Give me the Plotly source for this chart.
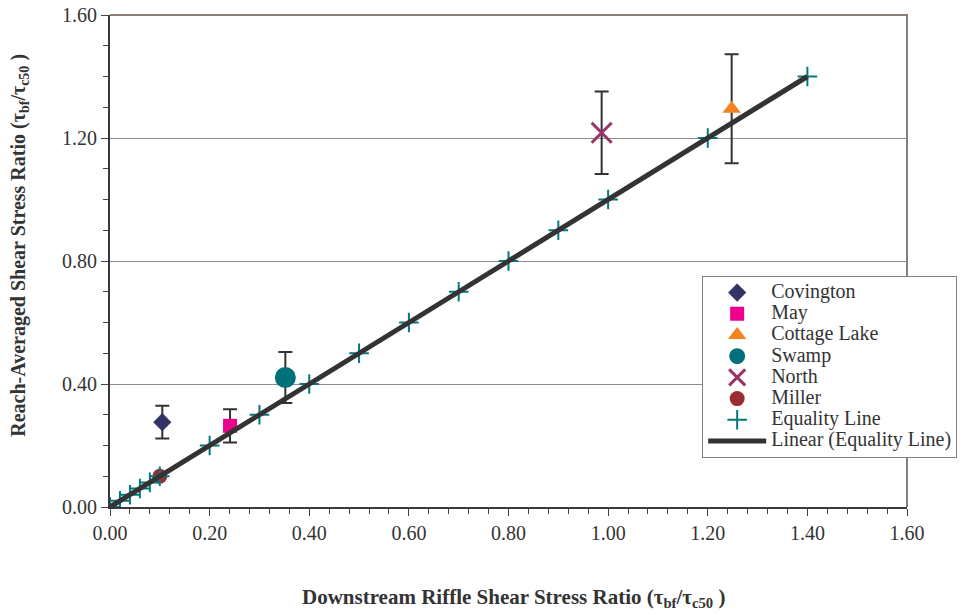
import plotly.graph_objects as go

# ---- data ----
site_names = ["Covington", "May", "Cottage Lake", "Swamp", "North", "Miller"]
site_x = [0.105, 0.241, 1.248, 0.352, 0.987, 0.100]
site_y = [0.276, 0.264, 1.295, 0.421, 1.217, 0.100]
site_err = [0.053, 0.054, 0.177, 0.083, 0.134, None]

equality_x = [0.0, 0.02, 0.04, 0.06, 0.08, 0.10, 0.20, 0.30, 0.40, 0.50, 0.60,
              0.70, 0.80, 0.90, 1.00, 1.20, 1.40]
equality_y = list(equality_x)

# ---- styles ----
site_styles = {
    "Covington": dict(symbol="diamond", color="#333366", size=14),
    "May": dict(symbol="square", color="#EC008C", size=14),
    "Cottage Lake": dict(symbol="triangle-up", color="#F5821F", size=16),
    "Swamp": dict(symbol="circle", color="#00717A", size=21),
    "North": dict(symbol="x-thin-open", color="#993366", size=20),
    "Miller": dict(symbol="circle", color="#9B2D30", size=15),
}
font_family = "Liberation Serif"
ink = "#333333"


def legend_label(s):
    return '<span style="font-size:20px">' + s + '</span>'


fig = go.Figure()

for name, x, y, e in zip(site_names, site_x, site_y, site_err):
    st = site_styles[name]
    marker = dict(symbol=st["symbol"], color=st["color"], size=st["size"])
    if st["symbol"].endswith("open"):
        marker["line"] = dict(color=st["color"], width=3)
    else:
        marker["line"] = dict(width=0)
    kw = {}
    if e is not None:
        kw["error_y"] = dict(type="data", array=[e], visible=True,
                             color=ink, thickness=2, width=7)
    fig.add_trace(go.Scatter(x=[x], y=[y], mode="markers", name=legend_label(name),
                             marker=marker, **kw))

fig.add_trace(go.Scatter(
    x=equality_x, y=equality_y, mode="markers", name=legend_label("Equality Line"),
    marker=dict(symbol="cross-thin-open", size=14, color="#007A80",
                line=dict(color="#007A80", width=2))))

lin_x = [min(equality_x), max(equality_x)]
fig.add_trace(go.Scatter(
    x=lin_x, y=lin_x, mode="lines", name=legend_label("Linear (Equality Line)"),
    line=dict(color="#333333", width=5)))

fig.update_layout(
    width=969, height=615,
    margin=dict(l=110, r=62, t=15, b=108, autoexpand=False),
    plot_bgcolor="white", paper_bgcolor="white",
    font=dict(family=font_family, size=20, color=ink),
    showlegend=True,
    legend=dict(x=0.743, y=0.4695, xanchor="left", yanchor="top",
                bgcolor="white", bordercolor="#808080", borderwidth=1,
                font=dict(family=font_family, size=14, color=ink),
                tracegroupgap=0, itemsizing="trace", itemwidth=58),
)

fig.update_xaxes(
    range=[0, 1.6], dtick=0.2, tickformat=".2f", automargin=False,
    showgrid=False, zeroline=False,
    showline=True, linecolor="#3A3A3A", linewidth=2, mirror=False,
    ticks="outside", ticklen=7, tickcolor="#444444", ticklabeloverflow="allow",
    minor=dict(dtick=0.04, ticks="outside", ticklen=5, tickcolor="#444444", showgrid=False),
    tickfont=dict(family=font_family, size=20, color=ink),
)
fig.update_yaxes(
    range=[0, 1.6], dtick=0.4, tickformat=".2f", automargin=False,
    showgrid=True, gridcolor="#8C8C8C", gridwidth=1, zeroline=False,
    showline=True, linecolor="#3A3A3A", linewidth=2, mirror=False,
    ticks="outside", ticklen=7, tickcolor="#444444", ticklabeloverflow="allow",
    minor=dict(dtick=0.1, ticks="outside", ticklen=5, tickcolor="#444444", showgrid=False),
    tickfont=dict(family=font_family, size=20, color=ink),
)

# top and right frame of the plot area
fig.add_shape(type="path", xref="paper", yref="paper", path="M0,1 L1,1 L1,0",
              line=dict(color="#8C7F7A", width=2), layer="above")

fig.add_annotation(
    xref="paper", yref="paper", x=0.506, y=-0.185, xanchor="center", yanchor="middle",
    text="<b>Downstream Riffle Shear Stress Ratio (τ<sub>bf</sub>/τ<sub>c50</sub> )</b>",
    showarrow=False, font=dict(family=font_family, size=21, color=ink))
fig.add_annotation(
    xref="paper", yref="paper", x=-0.113, y=0.533, xanchor="center", yanchor="middle",
    textangle=-90,
    text="<b>Reach-Averaged Shear Stress Ratio (τ<sub>bf</sub>/τ<sub>c50</sub> )</b>",
    showarrow=False, font=dict(family=font_family, size=20, color=ink))

fig.write_html("out.html",
               config={"displayModeBar": False},
               post_script="document.body.style.margin='0';document.body.style.padding='0';")
